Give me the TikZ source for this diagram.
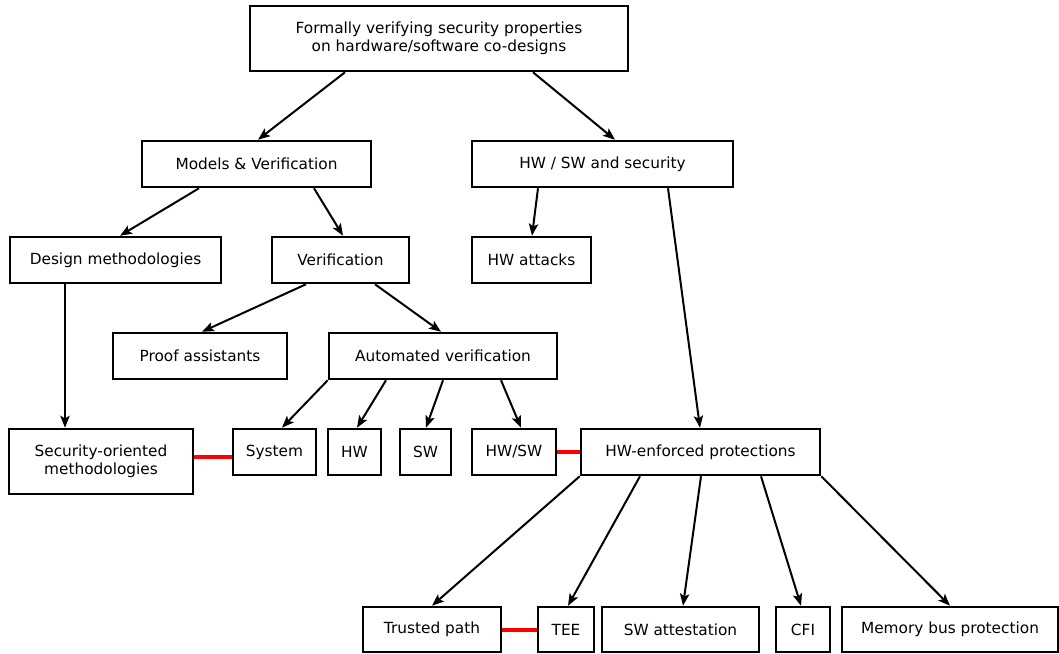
\documentclass[tikz,border=0pt]{standalone}
\usepackage{fontspec}
\setmainfont{DejaVu Sans}
\usetikzlibrary{arrows.meta}
\begin{document}
\begin{tikzpicture}[x=0.75pt,y=-0.75pt,
  box/.style={draw,line width=1.9pt,inner sep=0pt,font=\fontsize{11.5}{13.5}\selectfont,align=center},
  arr/.style={line width=1.5pt,-{Stealth[length=9pt,width=7pt,inset=2pt]}},
  link/.style={draw=red,line width=3.6pt}]
\useasboundingbox (0,0) rectangle (1059,653);
% boxes given by corners on a 0.75pt grid
\newcommand{\bx}[6]{\node[box,minimum width={(#4-#2)*0.75pt},minimum height={(#5-#3)*0.75pt}] (#1) at ({(#2+#4)/2},{(#3+#5)/2}) {#6};}
\bx{top}{250}{6}{628}{71}{Formally verifying security properties\\on hardware/software co-designs}
\bx{mv}{142}{141}{371}{187}{Models \& Verification}
\bx{hws}{472}{141}{733}{187}{HW / SW and security}
\bx{dm}{10}{237}{221}{283}{Design methodologies}
\bx{ver}{272}{237}{409}{283}{Verification}
\bx{hwa}{472}{237}{591}{283}{HW attacks}
\bx{pa}{113}{333}{287}{379}{Proof assistants}
\bx{av}{329}{333}{557}{379}{Automated verification}
\bx{som}{9}{429}{193}{494}{Security-oriented\\methodologies}
\bx{sys}{233}{429}{316}{475}{System}
\bx{hw}{328}{429}{381}{475}{HW}
\bx{sw}{400}{429}{451}{475}{SW}
\bx{hwsw}{472}{429}{556}{475}{HW/SW}
\bx{hwe}{581}{429}{820}{475}{HW-enforced protections}
\bx{tp}{363}{607}{501}{652}{Trusted path}
\bx{tee}{538}{607}{594}{652}{TEE}
\bx{swa}{602}{607}{759}{652}{SW attestation}
\bx{cfi}{776}{607}{830}{652}{CFI}
\bx{mbp}{842}{607}{1058}{652}{Memory bus protection}
% tree connectors
\draw[arr] (top.south -| 345,0) -- (mv.north -| 258,0);
\draw[arr] (top.south -| 533,0) -- (hws.north -| 615,0);
\draw[arr] (mv.south -| 199,0) -- (dm.north -| 120,0);
\draw[arr] (mv.south -| 314,0) -- (ver.north -| 343,0);
\draw[arr] (hws.south -| 538,0) -- (hwa.north -| 532,0);
\draw[arr] (hws.south -| 668,0) -- (hwe.north -| 700,0);
\draw[arr] (dm.south -| 65,0) -- (som.north -| 65,0);
\draw[arr] (ver.south -| 306,0) -- (pa.north -| 202,0);
\draw[arr] (ver.south -| 375,0) -- (av.north -| 441,0);
\draw[arr] (av.south west) -- (sys.north -| 282,0);
\draw[arr] (av.south -| 386,0) -- (hw.north -| 357,0);
\draw[arr] (av.south -| 443,0) -- (sw.north -| 426,0);
\draw[arr] (av.south -| 501,0) -- (hwsw.north -| 521,0);
\draw[arr] (hwe.south west) -- (tp.north -| 432,0);
\draw[arr] (hwe.south -| 640,0) -- (tee.north -| 568,0);
\draw[arr] (hwe.south -| 701,0) -- (swa.north -| 683,0);
\draw[arr] (hwe.south -| 761,0) -- (cfi.north -| 801,0);
\draw[arr] (hwe.south east) -- (mbp.north -| 950,0);
% red associations
\draw[link] (som.east |- 0,457) -- (sys.west |- 0,457);
\draw[link] (hwsw.east |- 0,452) -- (hwe.west |- 0,452);
\draw[link] (tp.east |- 0,630) -- (tee.west |- 0,630);
\end{tikzpicture}
\end{document}
